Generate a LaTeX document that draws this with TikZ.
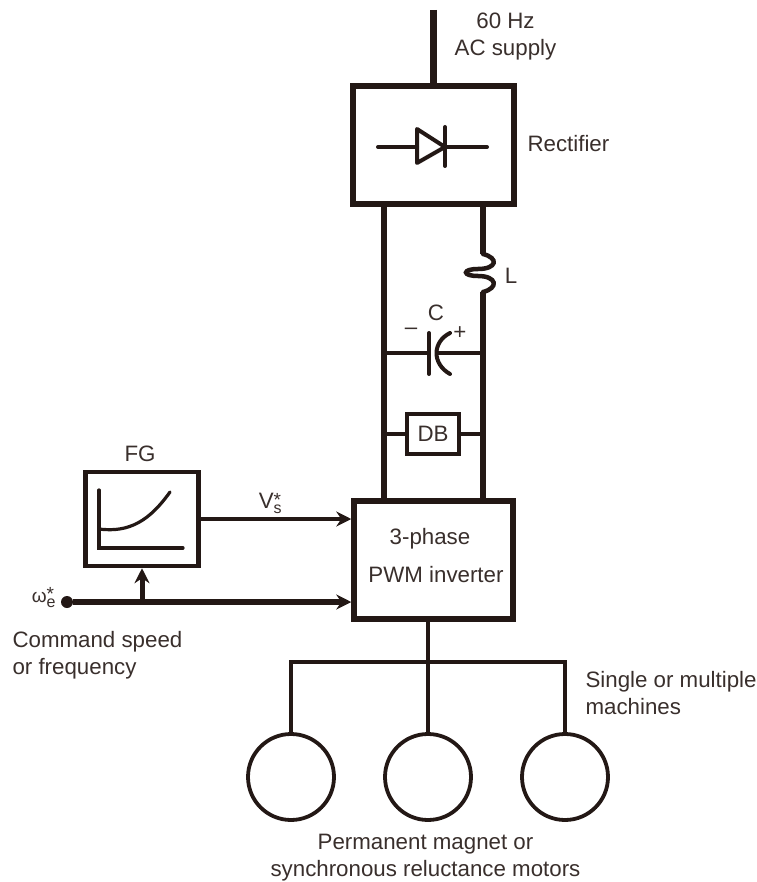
\documentclass[tikz,border=0pt]{standalone}
\usepackage{amsmath}
\usepackage{fontspec}
\usepackage{xcolor}
\setmainfont{Liberation Sans}
\usetikzlibrary{arrows.meta}
\definecolor{ink}{HTML}{231815}
\newcommand{\starsub}[1]{\rlap{\raisebox{-5pt}{\fontsize{16}{16}\selectfont #1}}\raisebox{2pt}{\fontsize{19}{19}\selectfont *}}

\begin{document}
\begin{tikzpicture}[
    x=1pt, y=-1pt,
    every node/.style={text=ink!90, font=\fontsize{22.3}{27}\selectfont},
    block/.style={rectangle, draw=ink, line width=5.5pt, fill=white, inner sep=0pt, align=center},
    motor/.style={circle, draw=ink, line width=3.8pt, minimum size=86pt, inner sep=0pt},
    label/.style={align=left, anchor=west},
    rail/.style={draw=ink, line width=6.3pt},
    wire/.style={draw=ink, line width=4pt, line cap=round},
    thin wire/.style={draw=ink, line width=3.5pt},
    arrow/.style={-{Stealth[length=15pt, width=15pt, inset=5pt]}, draw=ink}
]
    \useasboundingbox (0,0) rectangle (756,882);
    % Rectifier
    \node[block, minimum width=161pt, minimum height=118pt] (rect) at (433.5,145) {};
    \coordinate (supply) at (433.5,10);
    \draw[rail] (supply) -- (rect.north);
    \node[align=center] (ac) at (505.5,37) {60 Hz\\AC supply};
    \node[label] (rectlabel) at (524,144) {Rectifier};
    % Diode
    \coordinate (diodeL) at (378,147);
    \coordinate (diodeR) at (487,147);
    \coordinate (triA) at (417,129);
    \coordinate (triB) at (417,163);
    \coordinate (triC) at (445,147);
    \draw[wire] (diodeL) -- (triA |- diodeL);
    \draw[wire] (triC) -- (diodeR);
    \draw[wire, line join=round] (triA) -- (triB) -- (triC) -- cycle;
    \draw[wire] (445,127) -- (445,166);
    % Inverter
    \node[block, minimum width=159pt, minimum height=118pt] (inv) at (433.5,560) {};
    \node (invtext1) at (430,539) {3-phase};
    \node (invtext2) at (436,575) {PWM inverter};
    % DC link
    \coordinate (railLtop) at (384,204);
    \coordinate (railLbot) at (384,501);
    \coordinate (railRtop) at (483,204);
    \coordinate (railRbot) at (483,501);
    \coordinate (indTop) at (483,254);
    \coordinate (indBot) at (483,292);
    \draw[rail] (railLtop) -- (railLbot);
    \draw[rail] (railRtop) -- (indTop);
    \draw[rail] (indBot) -- (railRbot);
    \draw[wire, line width=4.5pt] (indTop) .. controls (499,258) and (497,269) .. (478,269) .. controls (462,269) and (462,276) .. (478,276) .. controls (497,276) and (499,288) .. (indBot);
    \node (L) at (511,276) {L};
    % Capacitor
    \coordinate (capL) at (384,353);
    \coordinate (capR) at (483,353);
    \coordinate (plateMid) at (429,353);
    \coordinate (curveMid) at (437,353);
    \draw[thin wire] (capL) -- (plateMid);
    \draw[thin wire] (curveMid) -- (capR);
    \draw[wire] (429,333) -- (429,374);
    \draw[wire] (450,333) .. controls (432,342) and (432,364) .. (450,374);
    \node (C) at (436,313) {C};
    \node (minus) at (411,331) {–};
    \node (plus) at (460,333) {+};
    % Dynamic brake
    \node[block, line width=4.5pt, minimum width=52pt, minimum height=40pt] (db) at (433,434) {DB};
    \coordinate (dbL) at (384,434);
    \coordinate (dbR) at (483,434);
    \draw[thin wire] (dbL) -- (db);
    \draw[thin wire] (db) -- (dbR);
    % Function generator
    \node[block, line width=4.5pt, minimum width=113pt, minimum height=94pt] (fg) at (142,519) {};
    \node (fgtitle) at (140,454) {FG};
    \coordinate (axisTop) at (99,490);
    \coordinate (axisO) at (99,548);
    \coordinate (axisEnd) at (183,548);
    \draw[wire, line width=3.2pt] (axisTop) -- (axisO) -- (axisEnd);
    \draw[wire, line width=3.2pt] (99,529) .. controls (130,533) and (150,520) .. (170,492);
    % Command input
    \node[circle, fill=ink, minimum size=12pt, inner sep=0pt] (cmd) at (67,602) {};
    \node (omega) at (43,598) {\fontsize{19}{19}\selectfont ω\starsub{e}};
    \node[label] (cmdtext) at (9,655) {Command speed\\or frequency};
    \coordinate (tap) at (fg.south |- cmd);
    \draw[arrow, line width=6pt] (cmd) -- (inv.west |- cmd);
    \draw[arrow, line width=5pt] (tap) -- (fg.south);
    \draw[arrow, line width=4.5pt] (fg.east |- 0,519) -- (inv.west |- 0,519);
    \node (vs) at (270,503) {V\starsub{s}};
    % Motors
    \node[motor] (m1) at (291,777) {};
    \node[motor] (m2) at (428,777) {};
    \node[motor] (m3) at (565,777) {};
    \coordinate (bus1) at (291,662);
    \coordinate (bus2) at (428,662);
    \coordinate (bus3) at (565,662);
    \draw[wire, line cap=butt] (inv.south -| bus2) -- (m2);
    \draw[wire, line cap=butt, line join=miter] (m1) -- (bus1) -- (bus3) -- (m3);
    \node[label] (machines) at (582,693) {Single or multiple\\machines};
    \node[align=center, inner sep=0pt] (motors) at (425.5,858) {Permanent magnet or\\synchronous reluctance motors};
\end{tikzpicture}
\end{document}
